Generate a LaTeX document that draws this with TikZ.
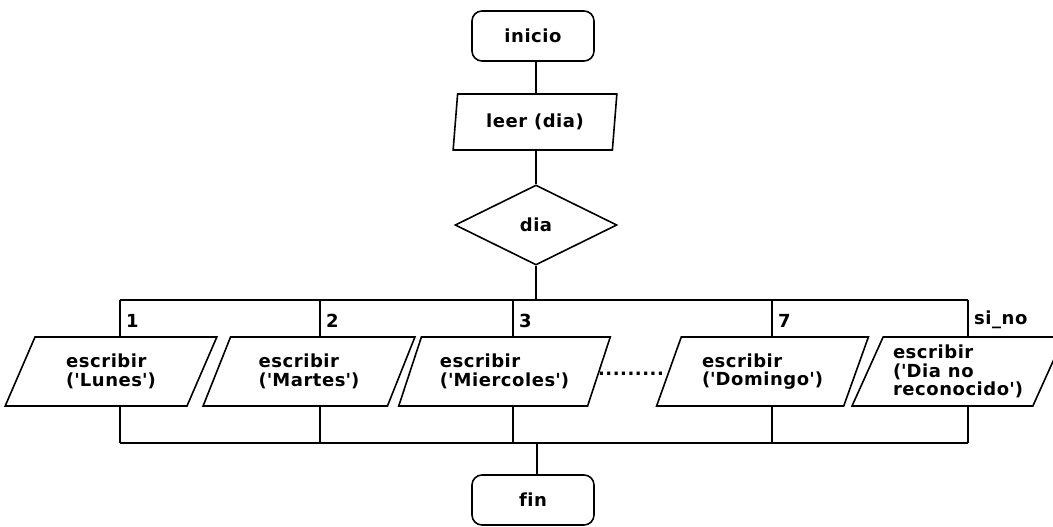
\documentclass[tikz,border=0pt]{standalone}
\usepackage{fontspec}
\setmainfont{DejaVu Sans}[LetterSpace=3, Ligatures=NoCommon]
\usetikzlibrary{shapes.geometric}
\newcommand{\apos}{\textquotesingle}
\begin{document}
\begin{tikzpicture}[x=1pt,y=-1pt,
  every node/.style={font=\bfseries\fontsize{18}{18.5}\selectfont},
  line/.style={draw=black, line width=1.6pt},
  terminal/.style={line, rectangle, rounded corners=10pt,
    minimum width=122pt, minimum height=50pt, inner sep=0pt},
  io/.style={line, trapezium, trapezium left angle=63, trapezium right angle=117,
    trapezium stretches=true, minimum width=212pt, minimum height=69pt,
    inner sep=0pt, align=left},
  decision/.style={line, diamond, minimum width=162pt, minimum height=80pt, inner sep=0pt},
  caselabel/.style={anchor=west, inner sep=0pt}
]
\useasboundingbox (0,0) rectangle (1053,527);

% main column
\coordinate (m) at (536,0);
\coordinate (mm) at (537,0);

\node[terminal] (inicio) at (533,36) {inicio};
\node[line, trapezium, trapezium left angle=80, trapezium right angle=100,
  trapezium stretches=true, minimum width=164pt, minimum height=56pt,
  inner sep=0pt] (leer) at (535,122) {leer (dia)};
\node[decision] (dia) at (536,225) {dia};

% branch points on the upper and lower rails
\coordinate (t1) at (120,300);
\coordinate (t2) at (320,300);
\coordinate (t3) at (513,300);
\coordinate (t7) at (772,300);
\coordinate (tn) at (968,300);
\coordinate (b1) at (120,443);
\coordinate (b2) at (320,443);
\coordinate (b3) at (513,443);
\coordinate (b7) at (772,443);
\coordinate (bn) at (968,443);

% output boxes
\node[io] (lunes) at (111,371.5) {escribir\\(\apos Lunes\apos)};
\node[io] (martes) at (309,371.5) {escribir\\(\apos Martes\apos)};
\node[io] (miercoles) at (504.5,371.5) {escribir\\(\apos Miercoles\apos)};
\node[io] (domingo) at (762.5,371.5) {escribir\\(\apos Domingo\apos)};
\node[io] (otro) at (958,371.5) {escribir\\(\apos Dia no\\reconocido\apos)};
\node[inner sep=0pt] (dots) at (631,374) {.........};

% case labels
\node[caselabel] (l1) at (126,321) {1};
\node[caselabel] (l2) at (326,321) {2};
\node[caselabel] (l3) at (519,321) {3};
\node[caselabel] (l7) at (778,321) {7};
\node[caselabel] (ln) at (974,320) {si\_no};

\node[terminal] (fin) at (533,500) {fin};

% connectors
\draw[line] (inicio.south -| m) -- (leer.north -| m);
\draw[line] (leer.south -| m) -- (dia.north);
\draw[line] (dia.south) -- (dia.south |- t1);
\draw[line] (t1) -- (tn);
\draw[line] (t1) -- (t1 |- lunes.north);
\draw[line] (t2) -- (t2 |- martes.north);
\draw[line] (t3) -- (t3 |- miercoles.north);
\draw[line] (t7) -- (t7 |- domingo.north);
\draw[line] (tn) -- (tn |- otro.north);
\draw[line] (b1 |- lunes.south) -- (b1);
\draw[line] (b2 |- martes.south) -- (b2);
\draw[line] (b3 |- miercoles.south) -- (b3);
\draw[line] (b7 |- domingo.south) -- (b7);
\draw[line] (bn |- otro.south) -- (bn);
\draw[line] (b1) -- (bn);
\draw[line] (mm |- b1) -- (fin.north -| mm);
\end{tikzpicture}
\end{document}
